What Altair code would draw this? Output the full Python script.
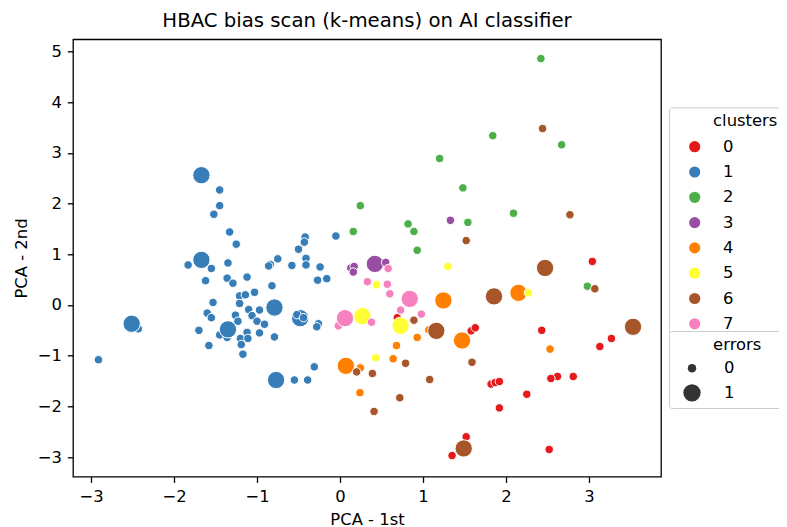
import altair as alt
import pandas as pd

NB = "\u00a0"
ZW = "\u200b"
HS = "\u200a"
TS = "\u2009"

cluster_names = ["0", "1", "2", "3", "4", "5", "6", "7"]
palette = ["#e41a1c", "#377eb8", "#4daf4a", "#984ea3",
           "#ff7f00", "#ffff33", "#a65628", "#f781bf"]

# (PCA 1st, PCA 2nd, errors) per cluster
cluster0 = [(0.69, -0.25, 0), (1.58, -0.51, 0), (1.63, -0.45, 0), (3.04, 0.86, 0),
            (2.43, -0.50, 0), (3.27, -0.66, 0), (3.13, -0.82, 0), (2.62, -1.41, 0),
            (2.54, -1.45, 0), (2.81, -1.41, 0), (1.82, -1.56, 0), (1.87, -1.53, 0),
            (1.92, -1.51, 0), (2.25, -1.76, 0), (1.92, -2.03, 0), (2.52, -2.85, 0),
            (1.52, -2.60, 0), (1.35, -2.97, 0)]
cluster1 = [(-1.67, 2.56, 1), (-1.45, 2.27, 0), (-1.45, 1.96, 0), (-1.52, 1.79, 0),
            (-1.33, 1.44, 0), (-1.25, 1.20, 0), (-1.83, 0.79, 0), (-1.67, 0.89, 1),
            (-1.55, 0.72, 0), (-1.35, 0.83, 0), (-1.62, 0.48, 0), (-1.36, 0.53, 0),
            (-1.29, 0.43, 0), (-1.12, 0.55, 0), (-1.03, 0.25, 0), (-1.21, 0.18, 0),
            (-1.14, 0.20, 0), (-1.21, 0.03, 0), (-1.53, 0.05, 0), (-1.60, -0.16, 0),
            (-1.55, -0.25, 0), (-1.26, -0.20, 0), (-1.23, -0.32, 0), (-1.10, -0.09, 0),
            (-1.06, -0.21, 0), (-1.00, -0.32, 0), (-0.97, -0.10, 0), (-2.43, -0.47, 0),
            (-2.51, -0.37, 1), (-1.70, -0.50, 0), (-1.45, -0.59, 0), (-1.36, -0.64, 0),
            (-1.20, -0.66, 0), (-1.12, -0.54, 0), (-1.11, -0.66, 0), (-1.35, -0.48, 1),
            (-1.19, -0.78, 0), (-0.97, -0.55, 0), (-1.58, -0.80, 0), (-1.17, -0.97, 0),
            (-2.91, -1.08, 0), (-0.42, 1.34, 0), (-0.43, 1.24, 0), (-0.50, 1.10, 0),
            (-0.05, 1.36, 0), (-0.75, 0.91, 0), (-0.84, 0.80, 0), (-0.86, 0.77, 0),
            (-0.58, 0.78, 0), (-0.41, 0.92, 0), (-0.41, 0.79, 0), (-0.24, 0.75, 0),
            (-0.27, 0.49, 0), (-0.16, 0.52, 0), (-0.82, 0.38, 0), (-0.79, -0.05, 1),
            (-0.91, -0.38, 0), (-0.48, -0.26, 1), (-0.52, -0.19, 0), (-0.44, -0.25, 0),
            (-0.26, -0.37, 0), (-0.28, -0.43, 0), (-0.79, -0.63, 0), (-0.31, -1.22, 0),
            (-0.77, -1.48, 1), (-0.55, -1.48, 0), (-0.39, -1.48, 0)]
cluster2 = [(2.42, 4.86, 0), (1.84, 3.34, 0), (2.67, 3.16, 0), (1.20, 2.89, 0),
            (1.48, 2.31, 0), (2.09, 1.81, 0), (1.54, 1.63, 0), (0.245, 1.96, 0),
            (0.82, 1.60, 0), (0.89, 1.45, 0), (0.16, 1.45, 0), (0.93, 1.08, 0),
            (2.98, 0.37, 0)]
cluster3 = [(0.13, 0.73, 0), (0.17, 0.76, 0), (0.16, 0.65, 0), (0.42, 0.81, 1),
            (0.55, 0.84, 0), (1.33, 1.67, 0)]
cluster4 = [(1.245, 0.09, 1), (2.15, 0.24, 1), (1.47, -0.70, 1), (0.07, -1.20, 1),
            (1.07, -0.49, 0), (0.93, -0.64, 0), (0.68, -0.80, 0), (0.64, -1.06, 0),
            (0.245, -1.24, 0), (0.24, -1.73, 0), (2.53, -0.87, 0)]
cluster5 = [(0.27, -0.22, 1), (0.73, -0.41, 1), (0.44, 0.40, 0), (1.30, 0.76, 0),
            (0.43, -1.04, 0), (2.27, 0.24, 0)]
cluster6 = [(1.16, -0.51, 1), (1.855, 0.17, 1), (2.47, 0.73, 1), (3.53, -0.43, 1),
            (1.49, -2.83, 1), (1.52, 1.27, 0), (2.44, 3.48, 0), (2.77, 1.78, 0),
            (3.07, 0.32, 0), (0.89, -0.30, 0), (0.79, -1.15, 0), (0.20, -1.32, 0),
            (0.39, -1.35, 0), (1.08, -1.47, 0), (0.72, -1.83, 0), (0.41, -2.10, 0),
            (1.59, -1.13, 0)]
cluster7 = [(-0.02, -0.41, 0), (0.84, 0.12, 1), (0.06, -0.26, 1), (0.58, 0.72, 0),
            (0.33, 0.46, 0), (0.57, 0.41, 0), (0.60, 0.22, 0), (0.38, -0.34, 0),
            (0.73, -0.10, 0), (0.98, -0.18, 0)]

x_ticks = [-3, -2, -1, 0, 1, 2, 3]
y_ticks = [-3, -2, -1, 0, 1, 2, 3, 4, 5]

all_clusters = [cluster0, cluster1, cluster2, cluster3,
                cluster4, cluster5, cluster6, cluster7]
rows = []
for name, pts in zip(cluster_names, all_clusters):
    for px, py, e in pts:
        rows.append({"pc1": px, "pc2": py, "clusters": name, "errors": str(e)})
df = pd.DataFrame(rows)

FONT = "DejaVu Sans"
FS = 16.4
W, H = 588, 437.4
PREFIX = ZW + NB * 7 + HS

legend_common = dict(
    orient="none", legendX=596, padding=6, strokeColor="#cccccc",
    fillColor="white", cornerRadius=3,
    titleFont=FONT, titleFontSize=FS, titleFontWeight="normal", titleColor="black",
    labelFont=FONT, labelFontSize=FS, labelColor="black",
    symbolType="circle", symbolStrokeWidth=0, symbolOpacity=1,
)

chart = alt.Chart(df).mark_circle(opacity=1, stroke="white", strokeWidth=1).encode(
    x=alt.X("pc1:Q",
            scale=alt.Scale(domain=[-3.217, 3.867], nice=False, zero=False),
            axis=alt.Axis(title="PCA - 1st", values=x_ticks, titleX=W / 2, titleY=47.3,
                          titleBaseline="alphabetic", titleAlign="center", labelFlush=False)),
    y=alt.Y("pc2:Q",
            scale=alt.Scale(domain=[-3.387, 5.241], nice=False, zero=False),
            axis=alt.Axis(title="PCA - 2nd", values=y_ticks, titleX=-52, titleY=H / 2,
                          titleAngle=270, titleBaseline="middle", titleAlign="center",
                          labelFlush=False)),
    color=alt.Color("clusters:N",
                    scale=alt.Scale(domain=cluster_names, range=palette),
                    legend=alt.Legend(title=PREFIX + "clusters", legendY=68,
                                      symbolSize=125, symbolOffset=11.5, labelOffset=20,
                                      rowPadding=8.3, titlePadding=8.8,
                                      **legend_common)),
    size=alt.Size("errors:O",
                  scale=alt.Scale(domain=["0", "1"], range=[72, 300]),
                  legend=alt.Legend(title=PREFIX + "errors" + NB * 2 + TS + ZW, legendY=291.7,
                                    symbolOffset=8, labelOffset=23,
                                    rowPadding=6.7, titlePadding=6.7,
                                    symbolFillColor="#333333",
                                    **legend_common)),
).properties(
    width=W, height=H,
    padding={"left": 65, "top": 31.3, "right": 118, "bottom": 50.3},
    autosize=alt.AutoSizeParams(type="none"),
    title=alt.TitleParams(text="HBAC bias scan (k-means) on AI classifier",
                          font=FONT, fontSize=19.7, fontWeight="normal", color="black",
                          anchor="middle", offset=-7.5, baseline="alphabetic"),
).configure_view(
    stroke="black", strokeWidth=1.3
).configure_axis(
    grid=False, domain=False, tickColor="black", tickWidth=1.3, tickSize=5.74,
    labelPadding=5.74, labelFont=FONT, labelFontSize=FS, labelColor="black",
    titleFont=FONT, titleFontSize=FS, titleFontWeight="normal", titleColor="black",
)

chart.save("out.html", embed_options={"renderer": "svg", "actions": False})
